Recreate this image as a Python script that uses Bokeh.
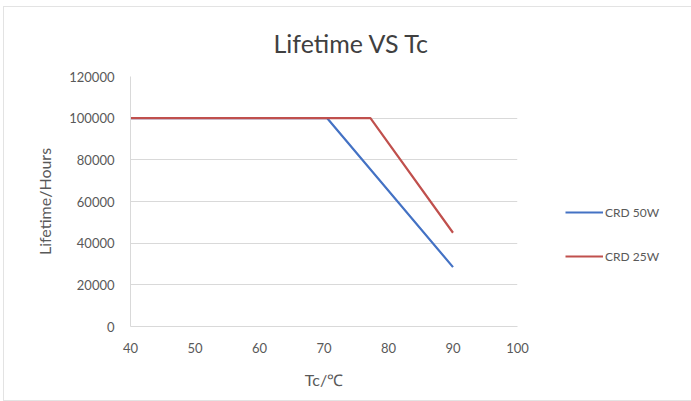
from bokeh.plotting import figure
from bokeh.models import Range1d, Legend, LegendItem, BasicTickFormatter, FixedTicker
from bokeh.embed import file_html
from bokeh.resources import INLINE

tc_50w = [40, 70.5, 90]
life_50w = [100000, 100000, 28500]
tc_25w = [40, 77.2, 90]
life_25w = [100000, 100000, 45000]
x_ticks = [40, 50, 60, 70, 80, 90, 100]
y_ticks = [0, 20000, 40000, 60000, 80000, 100000, 120000]

FONT = "Lato"
GRAY = "#595959"

p = figure(frame_width=387, frame_height=250, output_backend="svg", toolbar_location=None,
           x_range=Range1d(40, 100), y_range=Range1d(0, 120000),
           min_border_left=126, min_border_right=166, min_border_top=68, min_border_bottom=74)
p.styles = {"border": "1px solid #e3e3e3"}
p.margin = (6, 0, 0, 3)

p.title.text = "Lifetime VS Tc"
p.title.align = "left"
p.title.offset = 143
p.title.text_font = FONT
p.title.text_font_size = "25px"
p.title.text_font_style = "normal"
p.title.text_color = "#404040"
p.title.standoff = 37

p.outline_line_color = None
p.xgrid.grid_line_color = None
p.ygrid.grid_line_color = "#d9d9d9"
p.ygrid.grid_line_width = 1

p.xaxis.ticker = FixedTicker(ticks=x_ticks)
p.yaxis.ticker = FixedTicker(ticks=y_ticks)
p.yaxis.formatter = BasicTickFormatter(use_scientific=False)
for ax in (p.xaxis, p.yaxis):
    ax.major_tick_line_color = None
    ax.minor_tick_line_color = None
    ax.axis_line_color = "#d9d9d9"
    ax.major_label_text_font = FONT
    ax.major_label_text_font_size = "13px"
    ax.major_label_text_color = GRAY
    ax.axis_label_text_font = FONT
    ax.axis_label_text_font_size = "16px"
    ax.axis_label_text_font_style = "normal"
    ax.axis_label_text_color = GRAY
p.xaxis.major_label_standoff = 10
p.yaxis.major_label_standoff = 10
p.xaxis.axis_label = "Tc/℃"
p.yaxis.axis_label = "Lifetime/Hours"
p.xaxis.axis_label_standoff = 14
p.yaxis.axis_label_standoff = 12

r1 = p.line(tc_50w, life_50w, line_color="#4472c4", line_width=2.2)
r2 = p.line(tc_25w, life_25w, line_color="#c0504d", line_width=2.2)

legend = Legend(items=[LegendItem(label="CRD 50W", renderers=[r1]),
                       LegendItem(label="CRD 25W", renderers=[r2])],
                location="bottom_left", orientation="vertical",
                glyph_width=38, glyph_height=44, label_standoff=2, spacing=-4,
                padding=0, margin=48, border_line_color=None, background_fill_alpha=0,
                label_text_font=FONT, label_text_font_size="12px", label_text_color=GRAY)
p.add_layout(legend, "right")

open("out.html", "w").write(file_html(p, INLINE))
